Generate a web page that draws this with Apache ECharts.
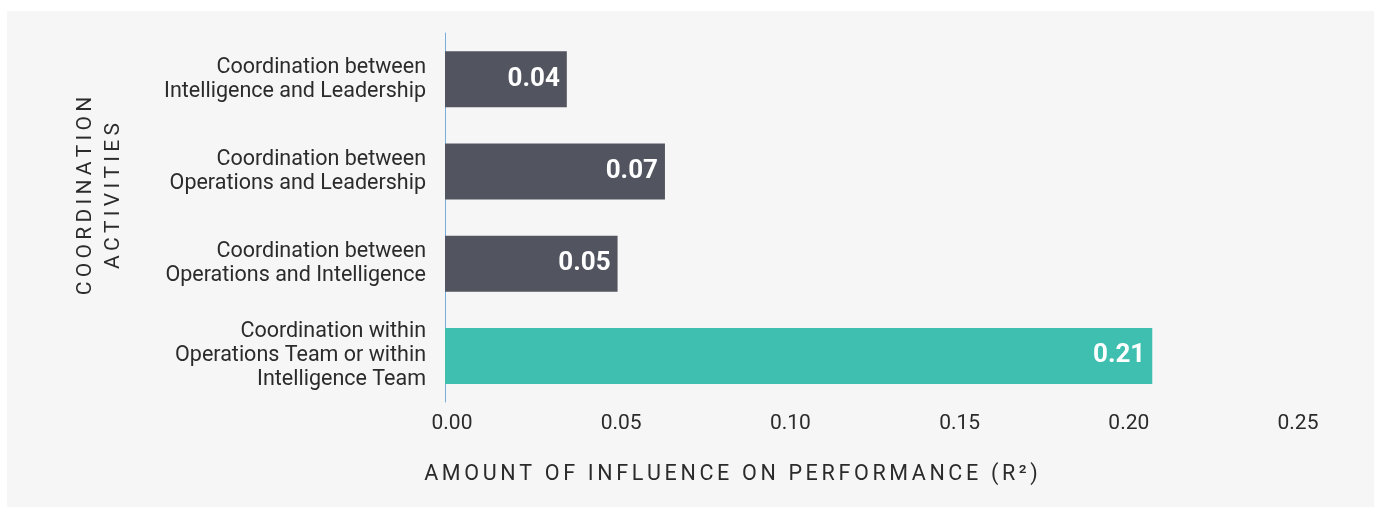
<!DOCTYPE html>
<html>
<head>
<meta charset="utf-8">
<script src="https://cdn.jsdelivr.net/npm/echarts@6/dist/echarts.min.js"></script>
<style>
    body { margin: 0; background: #ffffff; }
    #panel { position: absolute; left: 7px; top: 11px; width: 1367px; height: 496px; background: #f6f6f6; }
    #main { position: absolute; left: 0; top: 0; width: 1381px; height: 515px; }
</style>
</head>
<body>
<div id="panel"></div>
<div id="main"></div>
<script>
    // 类目（从上到下）
    var categories = [
        'Coordination between\nIntelligence and Leadership',
        'Coordination between\nOperations and Leadership',
        'Coordination between\nOperations and Intelligence',
        'Coordination within\nOperations Team or within\nIntelligence Team'
    ];
    // 柱子长度和柱上显示的数字
    var values = [0.036, 0.065, 0.051, 0.209];
    var valueLabels = ['0.04', '0.07', '0.05', '0.21'];
    var barColors = ['#52555f', '#52555f', '#52555f', '#3ebfb0'];
    var xTicks = [0, 0.05, 0.10, 0.15, 0.20, 0.25];

    function spaced(s, sp) {
        return s.split('').join(sp);
    }

    var font = 'Roboto';
    var myChart = echarts.init(document.getElementById('main'));
    var option = {
        backgroundColor: 'transparent',
        animation: false,
        textStyle: { fontFamily: font },
        grid: { left: 445, right: 90, top: 33, bottom: 113, containLabel: false },
        xAxis: {
            type: 'value',
            min: xTicks[0],
            max: xTicks[xTicks.length - 1],
            interval: 0.05,
            axisLine: { show: false },
            axisTick: { show: false },
            splitLine: { show: false },
            axisLabel: {
                margin: 11,
                fontSize: 21,
                color: '#2b2b2b',
                fontFamily: font,
                padding: [0, 0, 0, 14],
                formatter: function (v) { return v.toFixed(2); }
            }
        },
        yAxis: {
            type: 'category',
            inverse: true,
            data: categories,
            axisLine: { show: true, lineStyle: { color: '#7aaedc', width: 1 } },
            axisTick: { show: false },
            axisLabel: {
                margin: 19,
                fontSize: 21.5,
                lineHeight: 24,
                color: '#2b2b2b',
                fontFamily: font,
                align: 'right'
            }
        },
        series: [{
            type: 'bar',
            barWidth: 56,
            data: values.map(function (v, i) {
                return { value: v, itemStyle: { color: barColors[i] } };
            }),
            label: {
                show: true,
                position: 'insideRight',
                distance: 7,
                color: '#ffffff',
                fontSize: 26,
                fontWeight: 'bold',
                fontFamily: font,
                formatter: function (p) { return valueLabels[p.dataIndex]; }
            }
        }],
        graphic: [
            {
                type: 'text',
                x: 731,
                y: 475,
                style: {
                    text: spaced('AMOUNT OF INFLUENCE ON PERFORMANCE (R²)', '\u2006'),
                    fontSize: 21.5,
                    fontFamily: font,
                    fill: '#2b2b2b',
                    align: 'center',
                    verticalAlign: 'middle'
                }
            },
            {
                type: 'text',
                x: 100,
                y: 196,
                rotation: Math.PI / 2,
                style: {
                    text: spaced('COORDINATION', '\u2009') + '\n' + spaced('ACTIVITIES', '\u2009'),
                    fontSize: 21,
                    lineHeight: 28,
                    fontFamily: font,
                    fill: '#2b2b2b',
                    align: 'center',
                    verticalAlign: 'middle'
                }
            }
        ]
    };
    if (option && typeof option === "object") {
        myChart.setOption(option, true);
    }
</script>
</body>
</html>
